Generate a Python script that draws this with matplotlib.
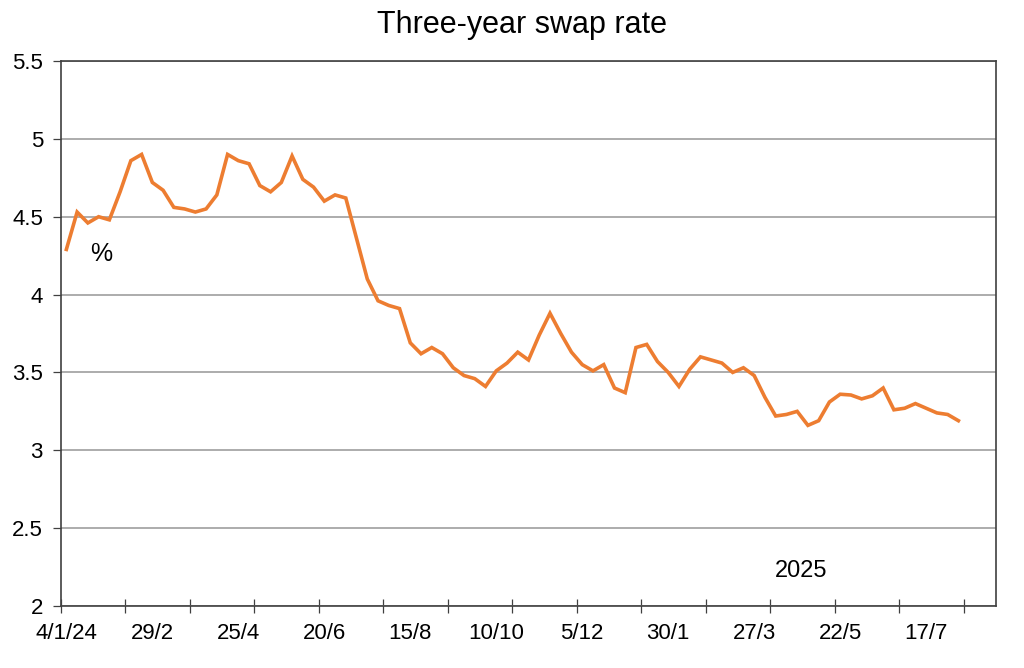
import numpy as np
import matplotlib.pyplot as plt
from matplotlib.ticker import FixedLocator, FuncFormatter

plt.rcParams['font.family'] = ['Liberation Sans', 'DejaVu Sans']

# weekly observations, 4/1/24 .. 7/8/25
swap = [4.29, 4.53, 4.46, 4.50, 4.48, 4.66, 4.86, 4.90, 4.72, 4.67,
        4.56, 4.55, 4.53, 4.55, 4.64, 4.90, 4.86, 4.84, 4.70, 4.66,
        4.72, 4.89, 4.74, 4.69, 4.60, 4.64, 4.62, 4.36, 4.10, 3.96,
        3.93, 3.91, 3.69, 3.62, 3.66, 3.62, 3.53, 3.48, 3.46, 3.41,
        3.51, 3.56, 3.63, 3.58, 3.74, 3.88, 3.75, 3.63, 3.55, 3.51,
        3.55, 3.40, 3.37, 3.66, 3.68, 3.57, 3.50, 3.41, 3.52, 3.60,
        3.58, 3.56, 3.50, 3.53, 3.48, 3.34, 3.22, 3.23, 3.25, 3.16,
        3.19, 3.31, 3.36, 3.355, 3.33, 3.35, 3.40, 3.26, 3.27, 3.30,
        3.27, 3.24, 3.23, 3.19]
n_cats = 87  # axis runs a few weeks past the last observation
tick_labels = ["4/1/24", "29/2", "25/4", "20/6", "15/8", "10/10",
               "5/12", "30/1", "27/3", "22/5", "17/7"]
yticks = [2, 2.5, 3, 3.5, 4, 4.5, 5, 5.5]

x = np.arange(len(swap))

fig = plt.figure(figsize=(10.24, 6.68), dpi=100)
ax = fig.add_axes([61/1024, 1-606/668, (996-61)/1024, (606-61)/668])

ax.plot(x, swap, color='#ED7D31', lw=2.6, solid_joinstyle='miter', zorder=3)

ax.set_xlim(-0.5, n_cats - 0.5)
ax.set_ylim(2, 5.5)
ax.set_yticks(yticks)
ax.yaxis.set_major_formatter(FuncFormatter(lambda v, p: f"{v:g}"))
ax.grid(axis='y', color='#a6a6a6', lw=1.3)
ax.set_axisbelow(True)

# tick marks every 6 weeks, labels every 8 weeks
ax.xaxis.set_major_locator(FixedLocator(np.arange(-0.5, n_cats, 6)))
ax.xaxis.set_minor_locator(FixedLocator(np.arange(0, 8*len(tick_labels), 8)))
ax.set_xticklabels([], minor=False)
ax.set_xticklabels(tick_labels, minor=True)
ax.tick_params(axis='x', which='major', direction='inout', length=10, width=0.9, color='#404040')
ax.tick_params(axis='x', which='minor', length=0, pad=12, labelsize=16)
ax.tick_params(axis='y', direction='out', length=6, width=0.9, color='#404040', labelsize=16, pad=7)

for s in ax.spines.values():
    s.set_color('#404040')
    s.set_linewidth(1.2)

fig.text(0.51, 1 - 33/668, "Three-year swap rate", ha='center', va='baseline', fontsize=22)
ax.text(3.2, 4.216, "%", ha='center', va='baseline', fontsize=18)
ax.text(68.4, 2.186, "2025", ha='center', va='baseline', fontsize=17)

fig.savefig("out.png", dpi=100)
